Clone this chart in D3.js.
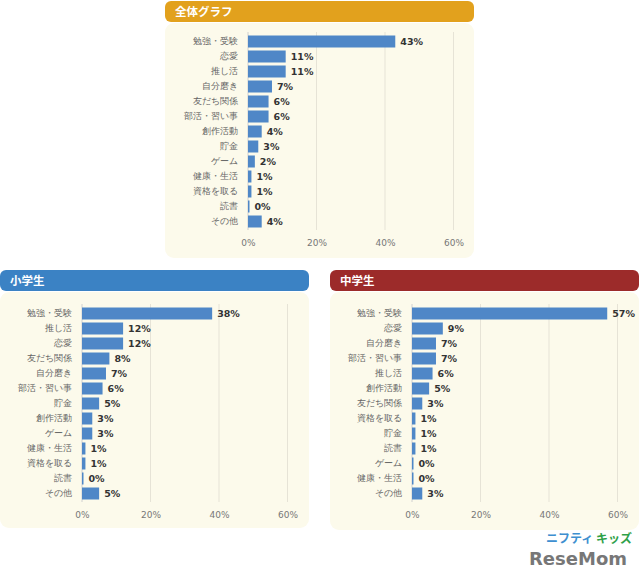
<!DOCTYPE html>
<html><head><meta charset="utf-8">
<script src="https://cdn.jsdelivr.net/npm/d3@7"></script>
<style>
html,body{margin:0;padding:0;background:#fff;}
svg{display:block;font-family:"Noto Sans CJK JP","Noto Sans",sans-serif;}
</style></head>
<body><svg id="c" width="640" height="578"></svg>
<script>
// ---- data ----
const overallCategories = ["勉強・受験","恋愛","推し活","自分磨き","友だち関係","部活・習い事","創作活動","貯金","ゲーム","健康・生活","資格を取る","読書","その他"];
const overallValues = [43,11,11,7,6,6,4,3,2,1,1,0,4];

const elementaryCategories = ["勉強・受験","推し活","恋愛","友だち関係","自分磨き","部活・習い事","貯金","創作活動","ゲーム","健康・生活","資格を取る","読書","その他"];
const elementaryValues = [38,12,12,8,7,6,5,3,3,1,1,0,5];

const juniorCategories = ["勉強・受験","恋愛","自分磨き","部活・習い事","推し活","創作活動","友だち関係","資格を取る","貯金","読書","ゲーム","健康・生活","その他"];
const juniorValues = [57,9,7,7,6,5,3,1,1,1,0,0,3];

const tickValues = [0,20,40,60];
const panelTitles = ["全体グラフ","小学生","中学生"];

const svg = d3.select("#c");

function drawPanel(o){
  const g = svg.append("g");
  // body
  g.append("rect").attr("x",o.px).attr("y",o.py+22).attr("width",o.pw).attr("height",o.ph-22)
    .attr("rx",9).attr("fill","#fcfaeb");
  // header
  g.append("rect").attr("x",o.px).attr("y",o.py).attr("width",o.pw).attr("height",21)
    .attr("rx",6).attr("fill",o.headColor);
  g.append("text").attr("x",o.px+10).attr("y",o.py+15).attr("fill","#fff")
    .attr("font-size",11.5).attr("font-weight","bold").text(o.title);

  const x = d3.scaleLinear().domain([0,60]).range([o.x0,o.x0+205.5]);
  const y = d3.scaleBand().domain(o.cats).range([o.top,o.top+195]).paddingInner(0.2).paddingOuter(0.1);

  // gridlines
  g.append("g").selectAll("line").data(tickValues).join("line")
    .attr("x1",d=>x(d)).attr("x2",d=>x(d)).attr("y1",o.top-2).attr("y2",o.top+196)
    .attr("stroke",d=>d===0?"#d0d0d0":"#e6e3d6").attr("stroke-width",1);

  // x axis
  const ax = g.append("g").attr("transform",`translate(0,${o.top+203})`)
    .call(d3.axisBottom(x).tickValues(tickValues).tickFormat(d=>d+"%").tickSize(0));
  ax.select(".domain").remove();
  ax.selectAll("text").attr("font-size",9).attr("fill","#777").attr("font-family","'DejaVu Sans',sans-serif");

  // y axis labels
  const ay = g.append("g").attr("transform",`translate(${o.x0-1},0)`)
    .call(d3.axisLeft(y).tickSize(0).tickPadding(9));
  ay.select(".domain").remove();
  ay.selectAll("text").attr("font-size",9).attr("fill","#666");

  // bars
  g.append("g").selectAll("rect").data(o.vals).join("rect")
    .attr("x",x(0)).attr("y",(d,i)=>y(o.cats[i]))
    .attr("width",d=>Math.max(x(d)-x(0),1.5)).attr("height",y.bandwidth())
    .attr("fill","#4f87c7");

  // value labels
  g.append("g").selectAll("text").data(o.vals).join("text")
    .attr("x",d=>Math.max(x(d),x(0)+1.5)+5).attr("y",(d,i)=>y(o.cats[i])+y.bandwidth()/2)
    .attr("dy","0.36em").attr("font-size",9.5).attr("font-weight","bold").attr("fill","#333")
    .attr("font-family","'DejaVu Sans',sans-serif")
    .text(d=>d+"%");
}

drawPanel({px:165,py:1,pw:309,ph:257,headColor:"#e2a11d",title:panelTitles[0],
  x0:248,top:34,cats:overallCategories,vals:overallValues});
drawPanel({px:0,py:270,pw:309,ph:258,headColor:"#3b82c4",title:panelTitles[1],
  x0:82,top:306,cats:elementaryCategories,vals:elementaryValues});
drawPanel({px:330,py:270,pw:309,ph:260,headColor:"#9c2b2a",title:panelTitles[2],
  x0:412,top:306,cats:juniorCategories,vals:juniorValues});

// watermark
const wm = svg.append("g");
wm.append("text").attr("x",546).attr("y",543).attr("font-size",12).attr("font-weight","bold")
  .attr("fill","#3e8fd0").text("ニフティ");
wm.append("text").attr("x",596).attr("y",543).attr("font-size",12).attr("font-weight","bold")
  .attr("fill","#2fa14a").text("キッズ");
wm.append("text").attr("x",529).attr("y",565).attr("font-size",18).attr("font-weight","bold")
  .attr("fill","#777").attr("font-family","'DejaVu Sans',sans-serif").text("ReseMom");
</script></body></html>
